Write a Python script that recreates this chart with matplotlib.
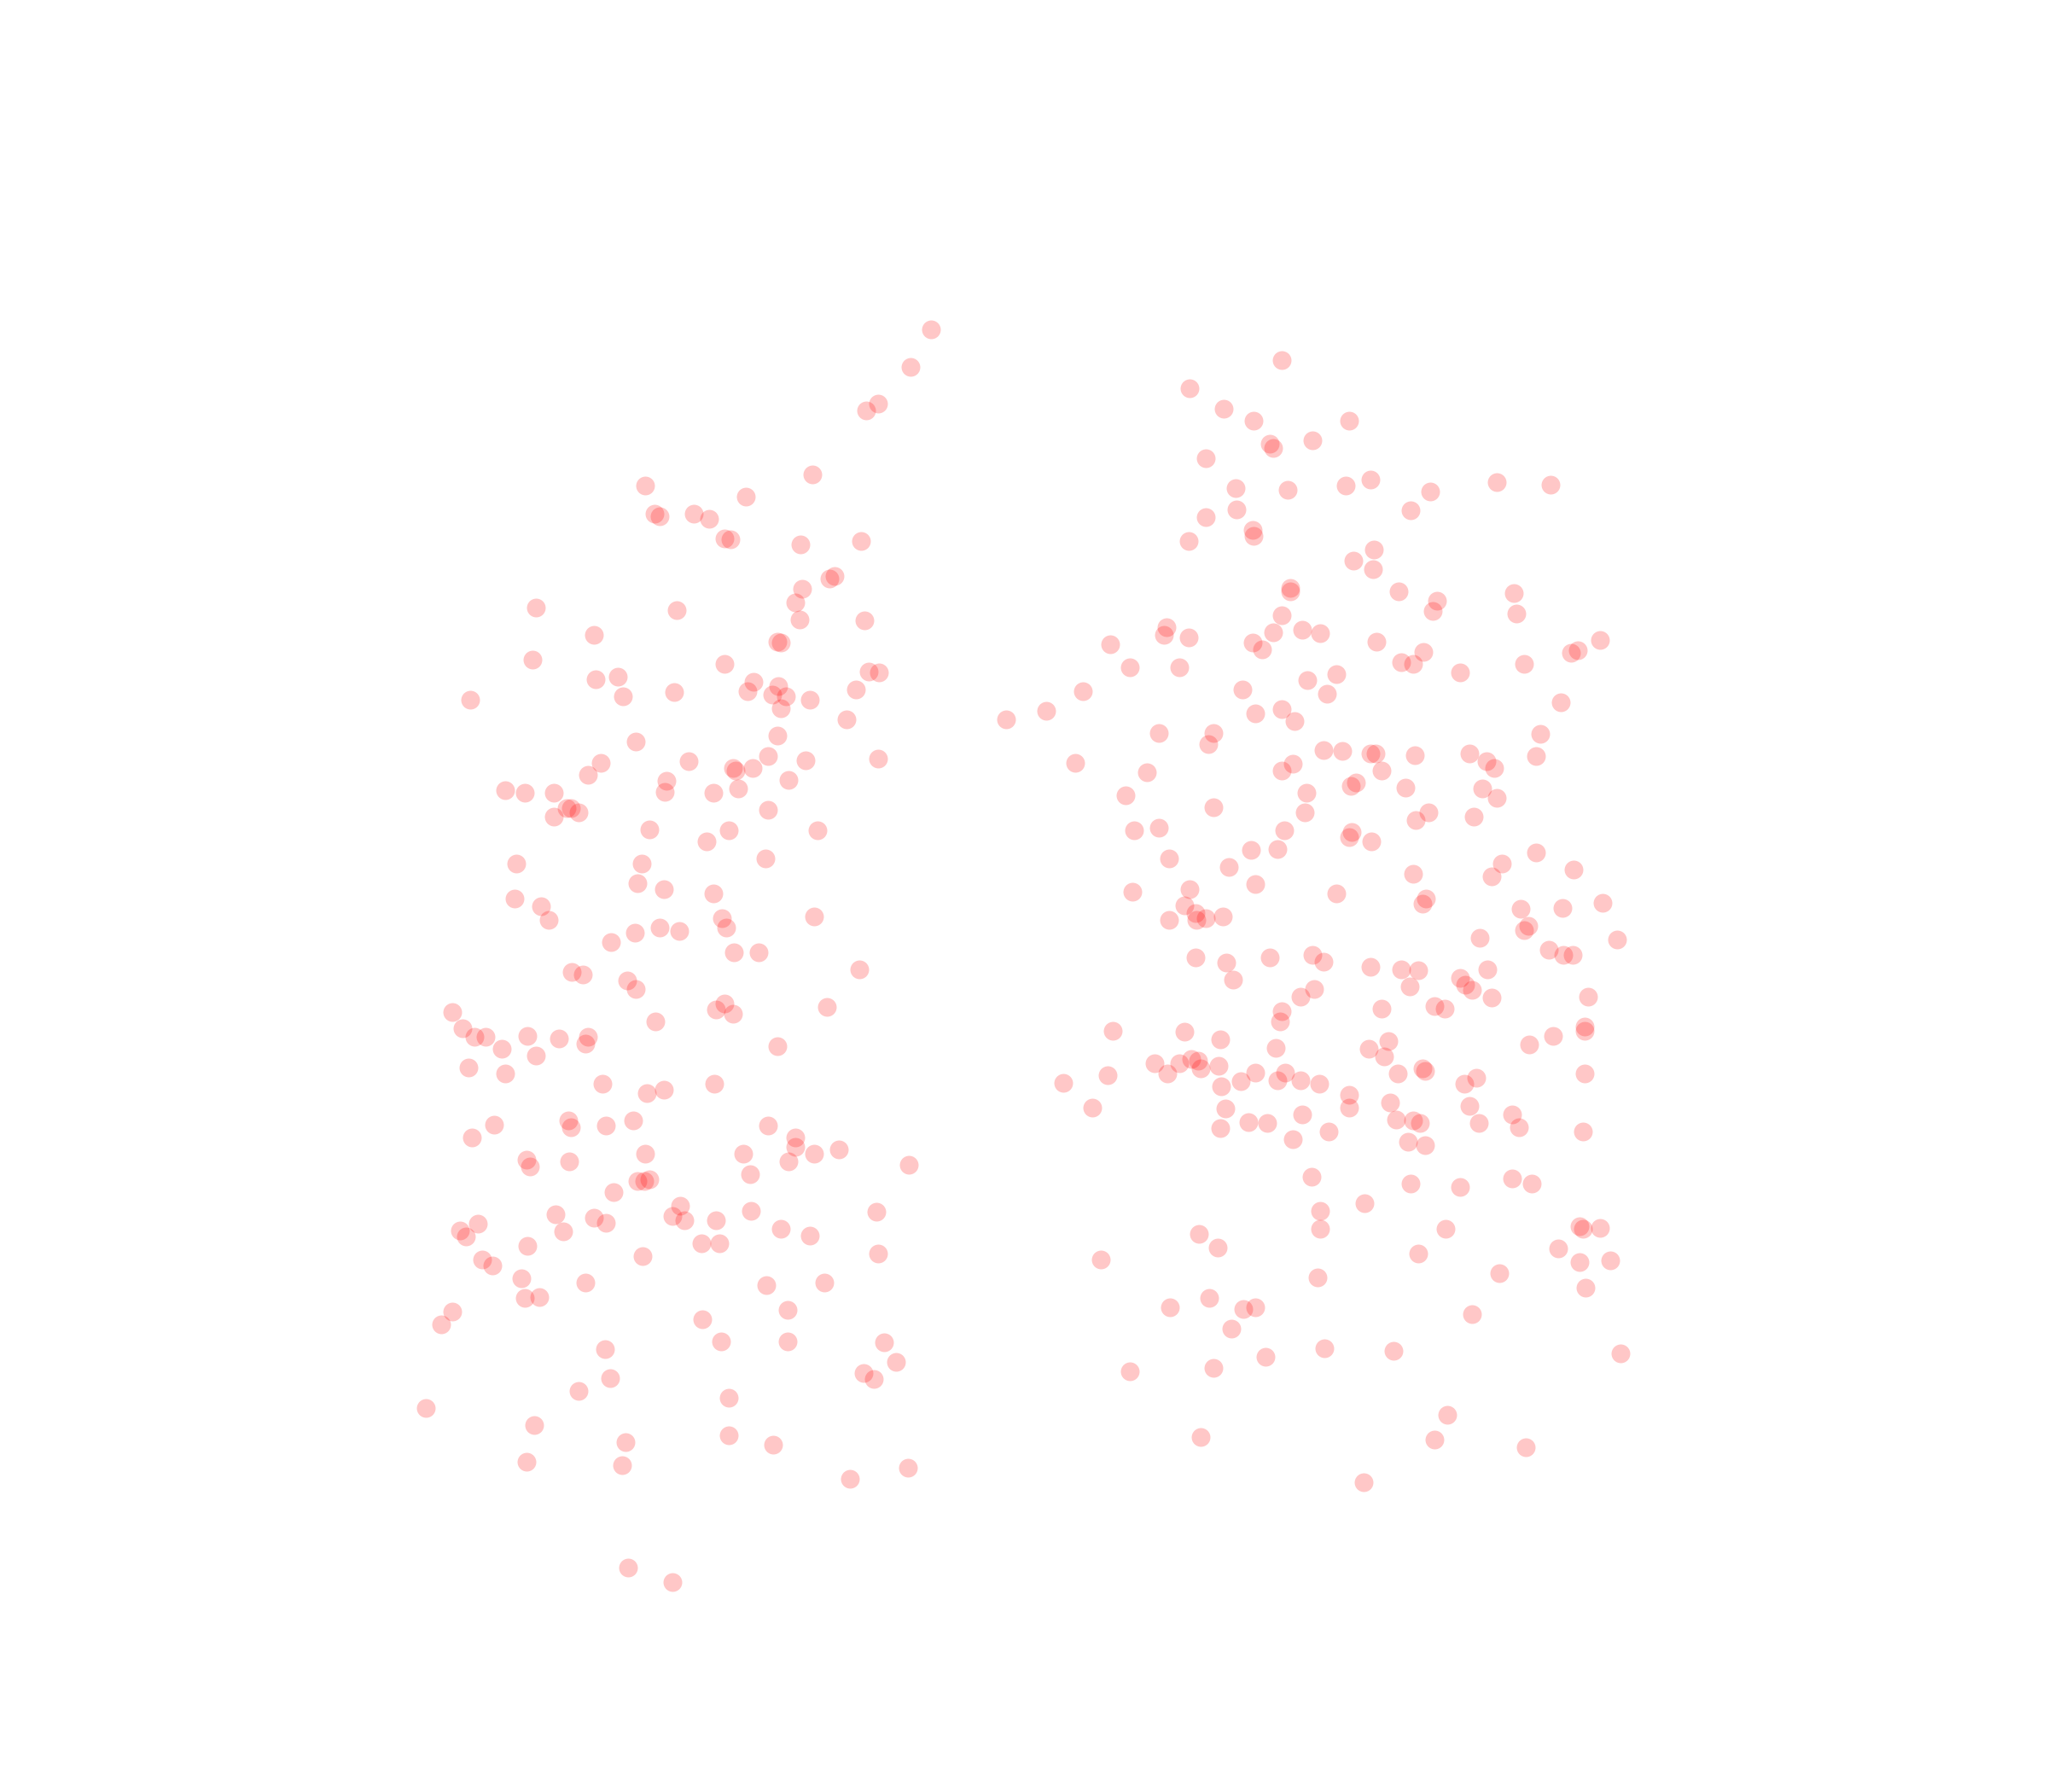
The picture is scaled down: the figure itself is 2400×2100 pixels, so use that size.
import matplotlib
matplotlib.use('Agg')
import matplotlib.pyplot as plt

# values
left_x = [713,697,672,663,622,571,494,501,505,531,543,555,559,613,659,639,635,614,609,612,662,518,410,455,408,595,598,555,665,673,456,473,477,516,572,577,596,591,602,598,620,655,360,648,595,487,672,617,588,576,561,563,527,460,450,510,509,546,565,604,387,402,424,434,437,443,424,588,497,541,558,626,586,491,395,488,508,546,394,414,420,553,556,623,505,520,486,468,562,581,438,446,658,480,487,555,548,561,633,346,354,363,372,384,404,410,428,450,448,502,595,359,387,461,495,508,547,378,435,437,464,485,588,609,609,361,494,569,604,623,642,696,403,406,436,488,493,497,574,470,425,455,464,515,524,521,548,575,671,352,366,357,431,404,598,620,537,551,492,672,369,377,399,448,587,631,402,413,346,338,538,603,463,552,603,677,686,661,669,467,443,558,326,409,479,558,592,403,476,651,695,481,515]
left_y = [252,281,309,314,363,380,372,393,395,393,397,412,413,417,414,441,443,451,461,474,475,467,465,486,505,491,492,508,514,515,520,518,533,530,529,522,525,532,533,542,536,528,536,551,563,568,581,582,579,588,588,590,583,584,593,598,606,607,604,597,605,607,607,619,619,622,625,620,635,644,636,636,657,661,661,676,681,684,688,694,704,703,710,702,710,713,714,721,729,729,744,746,742,751,757,768,773,776,771,775,787,794,794,803,793,808,795,794,799,782,801,817,822,830,837,834,830,861,858,863,862,858,862,871,878,871,883,883,889,883,880,892,888,893,889,904,904,903,899,913,930,932,936,931,934,923,934,927,928,942,937,947,943,954,941,946,952,952,962,960,964,969,979,982,984,982,994,993,1004,1014,1010,1003,1033,1027,1027,1028,1043,1051,1056,1055,1065,1070,1078,1091,1104,1099,1106,1119,1122,1132,1124,1200,1211]

right_x = [981,911,937,960,1033,972,975,1005,923,946,986,1030,1049,1095,1146,1187,947,923,1080,959,960,910,1052,1036,1051,988,988,1071,1100,1097,1159,1161,981,893,891,910,975,997,1011,850,959,966,1054,1090,1073,1082,1118,1167,1203,1208,1225,865,903,1023,1001,951,1016,829,801,770,961,981,991,1195,887,929,925,1179,1013,1028,1049,1053,1083,1125,1138,1144,1176,823,878,981,990,1058,1034,1038,1076,1135,1146,862,1000,929,999,1094,1084,1128,868,887,983,1033,1035,1050,958,978,895,941,1176,1150,1205,1082,1142,867,911,961,1023,1092,1089,1164,1196,1227,907,915,916,923,936,895,1170,1167,1133,1238,1186,1197,1204,915,939,972,1005,1013,1049,1073,1086,1139,944,1118,1122,1127,1079,1006,996,1142,1216,1058,1098,1106,981,980,1213,1213,852,907,934,1189,1171,977,1048,1063,1060,912,917,884,903,933,919,894,848,814,961,984,978,996,950,935,1010,1070,1089,1091,1130,1121,1213,1033,836,938,1033,1064,1125,997,1069,1082,1087,1158,1132,1163,956,970,934,1017,990,1078,1091,1212,1004,1080,1118,1158,1173,1045,1011,1011,1107,1209,1212,1225,918,932,1193,1086,843,1209,1233,1148,1009,1214,926,896,952,961,1127,943,1014,1067,969,929,865,1241,1108,919,1098,1168,1044]
right_y = [276,297,313,322,322,340,343,337,351,374,375,372,367,376,369,371,390,396,391,406,410,414,421,429,436,450,453,453,460,468,454,470,471,480,486,488,484,482,485,493,492,497,491,499,507,508,515,508,500,498,490,511,511,516,521,528,531,529,544,551,546,543,552,538,561,561,570,562,574,575,577,577,578,577,583,588,579,584,591,590,585,590,602,599,603,604,611,609,607,618,622,622,628,625,636,634,636,641,637,644,651,650,657,664,653,661,666,669,671,683,681,677,684,688,692,696,695,691,693,699,704,703,702,704,709,712,718,719,727,731,731,733,737,733,731,736,740,742,743,742,750,749,754,758,755,757,763,764,763,772,770,772,774,782,786,789,789,790,796,793,800,802,803,797,809,811,812,814,814,816,818,822,823,829,821,821,827,827,828,832,830,822,818,820,825,830,822,838,848,849,848,844,847,853,857,858,860,853,860,863,859,860,864,866,872,874,877,866,901,906,909,902,906,921,927,941,941,939,941,940,945,955,956,960,964,966,965,975,978,986,994,1001,1002,1001,1006,1017,1032,1034,1039,1047,1050,1036,1083,1100,1102,1108,1135]

fig = plt.figure(figsize=(24, 21), dpi=100)
ax = fig.add_axes([0, 0, 1, 1])

ax.scatter(left_x + right_x, left_y + right_y, s=250, color='red', alpha=0.22, linewidths=0)

ax.set_xlim(0, 1568)
ax.set_ylim(1372, 0)
ax.axis('off')

fig.savefig('out.png', dpi=100)
